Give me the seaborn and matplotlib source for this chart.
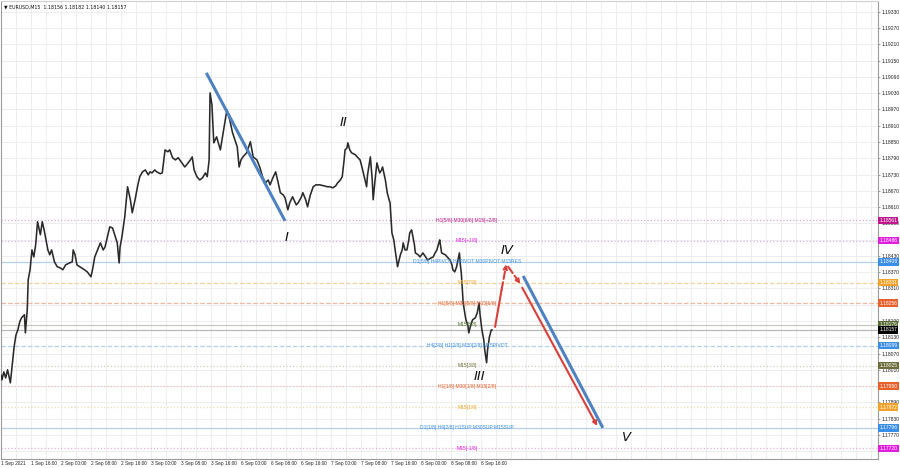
import numpy as np
import pandas as pd
import matplotlib
matplotlib.use("Agg")
import matplotlib.pyplot as plt
import matplotlib.transforms as mtransforms
import seaborn as sns

# ---------------- data ----------------
symbol_title = "\u25bc EURUSD,M15  1.18156 1.18182 1.18140 1.18157"

bars = [0, 1, 3, 5, 7, 10, 12, 14, 16, 18, 20, 22, 25, 26, 28, 29, 31, 33, 35, 37,
        39, 42, 44, 46, 48, 50, 52, 54, 57, 60, 63, 66, 69, 73, 76, 77, 79, 81, 84, 89,
        92, 96, 98, 100, 103, 106, 109, 111, 114, 116, 119, 122, 124, 126, 127, 129, 132, 135, 138, 140,
        143, 146, 148, 151, 154, 157, 159, 161, 164, 166, 170, 172, 175, 178, 180, 183, 186, 189, 193, 196,
        198, 202, 204, 206, 209, 212, 215, 218, 220, 222, 223, 225, 227, 230, 234, 237, 241, 244, 247, 252,
        254, 256, 258, 262, 266, 269, 273, 276, 279, 282, 285, 287, 290, 293, 295, 298, 301, 303, 306, 308,
        311, 315, 317, 320, 322, 325, 327, 330, 333, 336, 340, 345, 348, 351, 354, 357, 359, 362, 364, 366,
        367, 369, 370, 372, 374, 378, 380, 383, 385, 387, 390, 391, 394, 396, 397, 399, 401, 403, 404, 406,
        407, 410, 412, 414, 415, 417, 419, 420, 422, 423, 426, 428, 429, 431, 433, 435, 436, 438, 441, 442,
        445, 447, 450, 453, 455, 459, 461, 463, 465, 467, 468, 470, 474, 476, 479, 481, 482, 484, 486, 489,
        490, 491, 493, 495, 496, 498, 499, 501, 503, 506, 508, 510, 511, 513, 515, 516, 518, 519, 521, 523,
        524]
closes = [1.17991, 1.17973, 1.18002, 1.17980, 1.18010, 1.17962, 1.18028, 1.18095, 1.18139, 1.18157,
          1.18187, 1.18202, 1.18213, 1.18146, 1.18231, 1.18342, 1.18379, 1.18452, 1.18426, 1.18471,
          1.18556, 1.18508, 1.18556, 1.18526, 1.18489, 1.18452, 1.18434, 1.18452, 1.18408, 1.18390,
          1.18386, 1.18379, 1.18397, 1.18404, 1.18408, 1.18452, 1.18434, 1.18397, 1.18390, 1.18379,
          1.18371, 1.18353, 1.18386, 1.18426, 1.18452, 1.18478, 1.18452, 1.18463, 1.18508, 1.18537,
          1.18533, 1.18500, 1.18478, 1.18404, 1.18463, 1.18500, 1.18574, 1.18685, 1.18637, 1.18589,
          1.18637, 1.18692, 1.18722, 1.18740, 1.18747, 1.18729, 1.18740, 1.18736, 1.18747, 1.18740,
          1.18733, 1.18736, 1.18821, 1.18814, 1.18821, 1.18792, 1.18784, 1.18792, 1.18773, 1.18758,
          1.18766, 1.18784, 1.18795, 1.18747, 1.18722, 1.18710, 1.18718, 1.18736, 1.18722, 1.18784,
          1.19031, 1.18987, 1.18847, 1.18869, 1.18821, 1.18884, 1.18969, 1.18932, 1.18884, 1.18832,
          1.18758, 1.18784, 1.18795, 1.18810, 1.18851, 1.18795, 1.18784, 1.18758, 1.18722, 1.18699,
          1.18710, 1.18692, 1.18718, 1.18740, 1.18710, 1.18663, 1.18655, 1.18644, 1.18600, 1.18626,
          1.18648, 1.18618, 1.18626, 1.18644, 1.18663, 1.18637, 1.18611, 1.18655, 1.18685, 1.18692,
          1.18692, 1.18688, 1.18685, 1.18685, 1.18681, 1.18688, 1.18699, 1.18710, 1.18722, 1.18784,
          1.18821, 1.18828, 1.18847, 1.18821, 1.18810, 1.18803, 1.18795, 1.18784, 1.18758, 1.18729,
          1.18685, 1.18729, 1.18795, 1.18710, 1.18637, 1.18710, 1.18773, 1.18747, 1.18736, 1.18747,
          1.18758, 1.18710, 1.18663, 1.18637, 1.18626, 1.18515, 1.18489, 1.18463, 1.18415, 1.18390,
          1.18434, 1.18452, 1.18478, 1.18452, 1.18452, 1.18489, 1.18515, 1.18526, 1.18471, 1.18441,
          1.18434, 1.18426, 1.18441, 1.18426, 1.18415, 1.18423, 1.18426, 1.18441, 1.18452, 1.18478,
          1.18489, 1.18441, 1.18434, 1.18426, 1.18415, 1.18397, 1.18379, 1.18371, 1.18390, 1.18441,
          1.18397, 1.18367, 1.18257, 1.18213, 1.18194, 1.18174, 1.18146, 1.18174, 1.18194, 1.18202,
          1.18220, 1.18257, 1.18213, 1.18157, 1.18120, 1.18083, 1.18036, 1.18083, 1.18131, 1.18157,
          1.18157]

time_labels = ["1 Sep 2021", "1 Sep 16:00", "2 Sep 00:00", "2 Sep 08:00", "2 Sep 16:00",
               "3 Sep 00:00", "3 Sep 08:00", "3 Sep 16:00", "6 Sep 00:00", "6 Sep 08:00",
               "6 Sep 16:00", "7 Sep 00:00", "7 Sep 08:00", "7 Sep 16:00", "8 Sep 00:00",
               "8 Sep 08:00", "8 Sep 16:00"]
time_label_bars = [0, 32, 64, 96, 128, 160, 192, 224, 256, 288, 320, 352, 384, 416, 448, 480, 512]

price_ticks = [1.17710, 1.17770, 1.17830, 1.17890, 1.17950, 1.18010, 1.18070, 1.18130, 1.18190,
               1.18250, 1.18310, 1.18370, 1.18430, 1.18490, 1.18550, 1.18610, 1.18670, 1.18730,
               1.18790, 1.18850, 1.18910, 1.18970, 1.19030, 1.19090, 1.19150, 1.19210, 1.19270,
               1.19330]

level_prices = [1.18561, 1.18486, 1.18408, 1.18331, 1.18256, 1.18176, 1.18157,
                1.18099, 1.18025, 1.17950, 1.17872, 1.17796, 1.17720]
level_names = ["H1[5/8] M30[6/8] M15[+2/8]", "M15[+1/8]",
               "D1[5/8] H4PIVOT H1PIVOT M30PIVOT M15RES", "M15[7/8]",
               "H1[5/8] M30[5/8] M15[6/8]", "M15[5/8]", "",
               "H4[3/8] H1[2/8] M30[2/8] M15PIVOT", "M15[3/8]",
               "H1[1/8] M30[1/8] M15[2/8]", "M15[1/8]",
               "D1[1/8] H4[2/8] H1SUP M30SUP M15SUP", "M15[-1/8]"]
level_colors = ["#c0188c", "#e01ee0", "#3a8ee6", "#f2a22a", "#e8602c", "#556b2f", "#000000",
                "#3a8ee6", "#6e6e3c", "#e8602c", "#f2a22a", "#3a8ee6", "#e01ee0"]
level_line_colors = ["#dcaad0", "#dcb0e8", "#b4d0ec", "#f2d2a0", "#f0b89c", "#c8c8c0", "#b8b8b8",
                     "#b4d0ec", "#d0d0c0", "#f0c0c0", "#f2d8b0", "#b4d0ec", "#e8b0e0"]
level_styles = [":", ":", "-", "--", "--", "-", "-", "--", ":", ":", ":", "-", ":"]

# trend lines (bar, price) pairs
blue_lines = [((219, 1.19105), (303, 1.18559)), ((557, 1.18356), (642, 1.17796))]
red_solid_up = ((527, 1.18168), (534, 1.18305))
red_dashed_up = ((534, 1.18305), (539, 1.18399))
red_dashed_down = ((541, 1.18390), (554, 1.18327))
red_solid_down = ((556, 1.18313), (636, 1.17803))

wave_names = ["I", "II", "III", "IV", "V"]
wave_bars = [305, 365, 510, 540, 667]
wave_prices = [1.18497, 1.18921, 1.17984, 1.18449, 1.17759]

# ---------------- figure ----------------
sns.set_theme(style="white")
plt.rcParams['font.family'] = ['Liberation Sans', 'DejaVu Sans']

fig = plt.figure(figsize=(9, 4.68), dpi=100)
ax = fig.add_axes([1 / 900, 1 - 459 / 468, 877 / 900, 458 / 468])
ax.set_facecolor("white")

ax.set_xlim(0, 935.5)
ax.set_ylim(1.17681, 1.19370)

# grid
for p in price_ticks:
    ax.axhline(p, color="#ebebeb", lw=0.6, zorder=0)
for b in np.arange(16, 936, 16):
    ax.axvline(b, color="#ebebeb", lw=0.6, zorder=0)

# level lines
for p, c, ls in zip(level_prices, level_line_colors, level_styles):
    ax.axhline(p, color=c, lw=0.9, ls=ls, zorder=1)

# price
df = pd.DataFrame({"bar": bars, "close": closes})
sns.lineplot(data=df, x="bar", y="close", ax=ax, color="#2a2a2a", lw=1.15,
             estimator=None, sort=False, zorder=3)

# level texts
for p, name, c in zip(level_prices, level_names, level_colors):
    if name:
        ax.text(497, p, name, color=c, fontsize=3.6, ha="center", va="center", zorder=4)

# trend lines
for (a, b) in blue_lines:
    ax.plot([a[0], b[0]], [a[1], b[1]], color="#4f82c0", lw=2.2, solid_capstyle="butt", zorder=5)

red = "#d8403c"
ax.plot([red_solid_up[0][0], red_solid_up[1][0]], [red_solid_up[0][1], red_solid_up[1][1]],
        color=red, lw=1.5, zorder=6)
for seg, ls in [(red_dashed_up, "--"), (red_dashed_down, "--"), (red_solid_down, "-")]:
    ax.annotate("", xy=seg[1], xytext=seg[0],
                arrowprops=dict(arrowstyle="-|>", color=red, lw=1.5, linestyle=ls,
                                mutation_scale=6, shrinkA=0, shrinkB=0), zorder=6)

# wave labels
for n, b, p in zip(wave_names, wave_bars, wave_prices):
    ax.text(b, p, n, fontsize=9.5, style="italic", color="#111111", ha="center", va="center",
            family=["DejaVu Sans"], zorder=7)

# title
ax.text(0.003, 0.992, symbol_title, transform=ax.transAxes, fontsize=3.4, ha="left", va="top",
        color="#111111", family=["DejaVu Sans"])

# axes styling: tick labels hidden where a highlighted price box covers them
ax.yaxis.tick_right()
ax.set_yticks(price_ticks)
tick_texts = []
for p in price_ticks:
    covered = min(abs(p - q) for q in level_prices) < 0.00011
    tick_texts.append("" if covered else f"{p:.5f}")
ax.set_yticklabels(tick_texts, fontsize=3.6, color="#222222")
ax.set_xticks(time_label_bars)
ax.set_xticklabels(time_labels, fontsize=3.4, color="#222222", ha="left")
ax.tick_params(axis="y", length=1.5, width=0.4, pad=1.2, colors="#555555", labelcolor="#222222")
ax.tick_params(axis="x", length=0, pad=1.5)
ax.set_xlabel("")
ax.set_ylabel("")
for s in ax.spines.values():
    s.set_color("#9a9a9a")
    s.set_linewidth(0.8)
ax.spines["top"].set_color("#d0d0d0")

# price highlight boxes on the right axis
trans = mtransforms.blended_transform_factory(ax.transAxes, ax.transData)
for p, c in zip(level_prices, level_colors):
    ax.text(1.0015, p, f"{p:.5f}", transform=trans, fontsize=3.6, color="white",
            ha="left", va="center", zorder=10, clip_on=False,
            bbox=dict(boxstyle="square,pad=0.25", fc=c, ec=c, lw=0))

fig.savefig("out.png", dpi=100)
